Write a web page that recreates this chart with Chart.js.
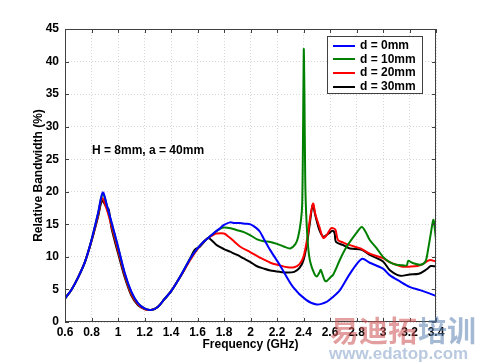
<!DOCTYPE html>
<html>
<head>
<meta charset="utf-8">
<script src="https://cdn.jsdelivr.net/npm/chart.js@4/dist/chart.umd.min.js"></script>
<style>
  html, body { margin: 0; padding: 0; background: #fff; }
  #wrap { width: 484px; height: 364px; }
</style>
</head>
<body>
<div id="wrap"><canvas id="bw"></canvas></div>
<script>
// Relative bandwidth (%) vs frequency (GHz).
const freqBlue = [0.6, 0.65, 0.7, 0.75, 0.8, 0.85, 0.885, 0.92, 0.95, 1.0, 1.05, 1.1, 1.15, 1.2, 1.25, 1.3, 1.35, 1.4, 1.45, 1.5, 1.55, 1.6, 1.65, 1.68,
    1.72, 1.77, 1.8, 1.845, 1.88, 1.92, 1.96, 2.0, 2.04, 2.07, 2.1, 2.15, 2.22, 2.32, 2.42, 2.5, 2.575, 2.62, 2.675, 2.75, 2.84, 2.9, 3.0, 3.05, 3.13, 3.2, 3.28, 3.35, 3.4];
const bwBlue = [3.6, 5.0, 6.9, 9.2, 12.6, 16.8, 19.9, 17.6, 15.4, 11.6, 7.6, 4.7, 2.9, 2.1, 1.85, 2.3, 3.5, 4.7, 6.3, 8.1, 9.9, 11.3, 12.4, 12.9,
    13.6, 14.4, 14.9, 15.3, 15.2, 15.2, 15.1, 15.0, 14.5, 13.9, 12.8, 11.0, 8.8, 5.4, 3.4, 2.7, 3.1, 3.8, 4.9, 7.4, 9.7, 9.1, 8.2, 7.2, 6.2, 5.4, 4.9, 4.4, 4.0];

const freqGreen = [0.6, 0.65, 0.7, 0.75, 0.8, 0.85, 0.885, 0.92, 0.95, 1.0, 1.05, 1.1, 1.15, 1.2, 1.25, 1.3, 1.35, 1.4, 1.45, 1.5, 1.55, 1.6, 1.65, 1.68,
    1.72, 1.77, 1.8, 1.85, 1.9, 1.95, 2.0, 2.05, 2.1, 2.15, 2.2, 2.25, 2.3, 2.34, 2.36, 2.38, 2.39, 2.397, 2.402, 2.407, 2.413, 2.42, 2.435, 2.45, 2.48, 2.5,
    2.52, 2.53, 2.545, 2.56, 2.575, 2.6, 2.625, 2.68, 2.73, 2.8, 2.84, 2.87, 2.9, 2.95, 3.0, 3.05, 3.1, 3.15, 3.18, 3.19, 3.22, 3.28, 3.32, 3.34, 3.36, 3.38, 3.39, 3.4];
const bwGreen = [3.6, 5.0, 6.9, 9.2, 12.6, 16.7, 19.7, 17.6, 15.3, 11.5, 7.5, 4.6, 2.9, 2.1, 1.85, 2.3, 3.5, 4.7, 6.3, 8.1, 9.9, 11.3, 12.4, 12.9,
    13.6, 14.3, 14.5, 14.4, 14.1, 13.8, 13.3, 12.7, 12.4, 12.3, 12.0, 11.6, 11.3, 12.0, 13.1, 15.5, 18.0, 30.0, 41.9, 35.0, 22.0, 16.7, 11.5, 9.3, 7.5, 7.0,
    7.6, 8.0, 7.2, 6.4, 6.3, 6.8, 7.3, 9.8, 11.7, 13.7, 14.6, 13.8, 12.6, 11.4, 10.0, 9.2, 8.8, 8.7, 8.7, 9.4, 9.1, 8.8, 9.3, 11.1, 13.5, 15.7, 14.5, 12.6];

const freqRed = [0.6, 0.65, 0.7, 0.75, 0.8, 0.85, 0.88, 0.92, 0.95, 1.0, 1.05, 1.1, 1.15, 1.2, 1.25, 1.3, 1.35, 1.4, 1.45, 1.5, 1.55, 1.6, 1.65, 1.68,
    1.72, 1.745, 1.8, 1.835, 1.88, 1.92, 2.0, 2.07, 2.15, 2.22, 2.28, 2.33, 2.37, 2.4, 2.43, 2.45, 2.472, 2.49, 2.52, 2.55, 2.58, 2.61, 2.64, 2.66,
    2.7, 2.75, 2.83, 2.9, 3.0, 3.05, 3.1, 3.15, 3.2, 3.26, 3.3, 3.35, 3.4];
const bwRed = [3.6, 5.0, 6.9, 9.2, 12.5, 16.4, 19.0, 17.0, 14.8, 11.0, 7.2, 4.3, 2.7, 2.0, 1.85, 2.3, 3.5, 4.7, 6.3, 8.0, 9.7, 11.2, 12.4, 12.9,
    13.4, 13.6, 13.6, 13.1, 12.3, 11.6, 10.7, 9.9, 9.1, 8.7, 8.4, 8.4, 8.9, 10.0, 13.0, 16.0, 18.2, 16.5, 14.6, 12.9, 13.5, 14.4, 14.2, 12.6,
    12.2, 11.8, 11.3, 10.5, 9.8, 9.2, 8.8, 8.5, 8.5, 8.6, 8.9, 9.5, 9.3];

const freqBlack = [0.6, 0.65, 0.7, 0.75, 0.8, 0.85, 0.88, 0.915, 0.93, 0.95, 1.0, 1.05, 1.1, 1.15, 1.2, 1.25, 1.3, 1.35, 1.4, 1.45, 1.5, 1.55, 1.58, 1.62, 1.65, 1.68,
    1.72, 1.745, 1.8, 1.845, 1.9, 1.945, 2.0, 2.045, 2.1, 2.15, 2.22, 2.28, 2.33, 2.37, 2.4, 2.43, 2.45, 2.47, 2.49, 2.52, 2.55, 2.59, 2.62, 2.635, 2.645,
    2.7, 2.75, 2.84, 2.9, 3.0, 3.05, 3.13, 3.2, 3.27, 3.33, 3.36, 3.4];
const bwBlack = [3.6, 5.0, 6.9, 9.2, 12.4, 16.2, 18.6, 17.6, 17.3, 14.5, 10.6, 6.9, 4.1, 2.6, 2.0, 1.85, 2.3, 3.5, 4.7, 6.3, 8.0, 10.0, 11.1, 11.6, 12.3, 12.9,
    12.3, 11.8, 11.2, 10.8, 10.3, 9.8, 9.2, 8.6, 8.2, 7.9, 7.7, 7.6, 7.7, 8.3, 9.5, 12.5, 15.5, 18.0, 16.3, 14.1, 13.1, 13.6, 14.0, 13.6, 12.3,
    11.8, 11.3, 11.1, 10.3, 9.3, 8.0, 7.1, 7.3, 7.4, 8.1, 8.6, 8.5];

const seriesLabels = ['d = 0mm', 'd = 10mm', 'd = 20mm', 'd = 30mm'];
const seriesColors = ['#0000ff', '#008000', '#ff0000', '#000000'];
const xTicks = [0.6, 0.8, 1, 1.2, 1.4, 1.6, 1.8, 2, 2.2, 2.4, 2.6, 2.8, 3, 3.2, 3.4];
const yTicks = [0, 5, 10, 15, 20, 25, 30, 35, 40, 45];

const FONT = '"Liberation Sans", Arial, sans-serif';

function toPoints( xs, ys ) {
    return xs.map( function( x, i ) { return { x: x, y: ys[i] }; } );
}

// Box round the plot with inward tick marks on all four sides.
const frameTicks = {
    id: 'frameTicks',
    afterDraw: function( chart ) {
        const ctx = chart.ctx;
        const a = chart.chartArea;
        const sx = chart.scales.x, sy = chart.scales.y;
        ctx.save();
        ctx.strokeStyle = '#404040';
        ctx.lineWidth = 1;
        ctx.strokeRect( a.left + 0.5, a.top + 0.5, a.right - a.left - 1, a.bottom - a.top - 1 );
        ctx.beginPath();
        xTicks.forEach( function( v ) {
            const px = Math.round( sx.getPixelForValue( v ) ) + 0.5;
            ctx.moveTo( px, a.bottom ); ctx.lineTo( px, a.bottom - 4 );
            ctx.moveTo( px, a.top ); ctx.lineTo( px, a.top + 4 );
        });
        yTicks.forEach( function( v ) {
            const py = Math.round( sy.getPixelForValue( v ) ) + 0.5;
            ctx.moveTo( a.left, py ); ctx.lineTo( a.left + 4, py );
            ctx.moveTo( a.right, py ); ctx.lineTo( a.right - 4, py );
        });
        ctx.stroke();
        ctx.restore();
    }
};

// Legend box, note text and the watermark.
const boxLegend = {
    id: 'boxLegend',
    afterDraw: function( chart ) {
        const ctx = chart.ctx;
        ctx.save();
        ctx.fillStyle = '#fff';
        ctx.fillRect( 327, 36, 96, 58 );
        ctx.strokeStyle = '#404040';
        ctx.lineWidth = 1;
        ctx.strokeRect( 327.5, 36.5, 95, 57 );
        ctx.font = 'bold 12px ' + FONT;
        ctx.textBaseline = 'middle';
        ctx.textAlign = 'left';
        chart.data.datasets.forEach( function( ds, i ) {
            const y = 45.5 + i * 13.7;
            ctx.strokeStyle = ds.borderColor;
            ctx.lineWidth = 2;
            ctx.beginPath();
            ctx.moveTo( 333, Math.round( y ) ); ctx.lineTo( 355, Math.round( y ) );
            ctx.stroke();
            ctx.fillStyle = '#000';
            ctx.fillText( ds.label, 360, y );
        });
        ctx.fillText( 'H = 8mm, a = 40mm', 92, 151 );

        ctx.globalAlpha = 0.55;
        ctx.font = 'bold 29px "Noto Sans CJK SC", sans-serif';
        ctx.fillStyle = '#cc5050';
        ctx.fillText( '易迪拓', 330, 331 );
        ctx.fillStyle = '#5a7fb0';
        ctx.fillText( '培训', 418, 331 );
        ctx.font = 'bold 17px ' + FONT;
        ctx.fillStyle = '#7f9cc4';
        ctx.fillText( 'www.edatop.com', 329, 354 );
        ctx.restore();
    }
};

const datasets = [
    toPoints( freqBlue, bwBlue ),
    toPoints( freqGreen, bwGreen ),
    toPoints( freqRed, bwRed ),
    toPoints( freqBlack, bwBlack )
].map( function( pts, i ) {
    return {
        label: seriesLabels[i],
        data: pts,
        borderColor: seriesColors[i],
        backgroundColor: seriesColors[i],
        borderWidth: 2,
        pointRadius: 0,
        tension: 0.3,
        fill: false
    };
});

new Chart( document.getElementById( 'bw' ), {
    type: 'line',
    data: { datasets: datasets },
    options: {
        responsive: true,
        maintainAspectRatio: false,
        animation: false,
        layout: { padding: { top: 29, right: 48, left: 0, bottom: 0 } },
        plugins: {
            legend: { display: false },
            tooltip: { enabled: false }
        },
        scales: {
            x: {
                type: 'linear',
                min: 0.6,
                max: 3.4,
                afterBuildTicks: function( s ) { s.ticks = xTicks.map( function( v ) { return { value: v }; } ); },
                afterFit: function( s ) { s.height = 42; },
                ticks: {
                    color: '#000',
                    padding: 3,
                    maxRotation: 0,
                    autoSkip: false,
                    font: { family: FONT, size: 12, weight: 'bold' },
                    callback: function( v ) { return String( Number( v.toFixed( 1 ) ) ); }
                },
                grid: { color: '#d6d6d6', drawTicks: false },
                border: { display: false, dash: [1, 2] },
                title: {
                    display: true,
                    text: 'Frequency (GHz)',
                    color: '#000',
                    font: { family: FONT, size: 12, weight: 'bold' },
                    padding: { top: 0, bottom: 12 }
                }
            },
            y: {
                min: 0,
                max: 45,
                afterBuildTicks: function( s ) { s.ticks = yTicks.map( function( v ) { return { value: v }; } ); },
                afterFit: function( s ) { s.width = 65; },
                ticks: {
                    color: '#000',
                    padding: 6,
                    font: { family: FONT, size: 12, weight: 'bold' }
                },
                grid: { color: '#d6d6d6', drawTicks: false },
                border: { display: false, dash: [1, 2] },
                title: {
                    display: true,
                    text: 'Relative Bandwidth (%)',
                    color: '#000',
                    font: { family: FONT, size: 12, weight: 'bold' },
                    padding: { top: 31, bottom: 0 }
                }
            }
        }
    },
    plugins: [ frameTicks, boxLegend ]
});
</script>
</body>
</html>
